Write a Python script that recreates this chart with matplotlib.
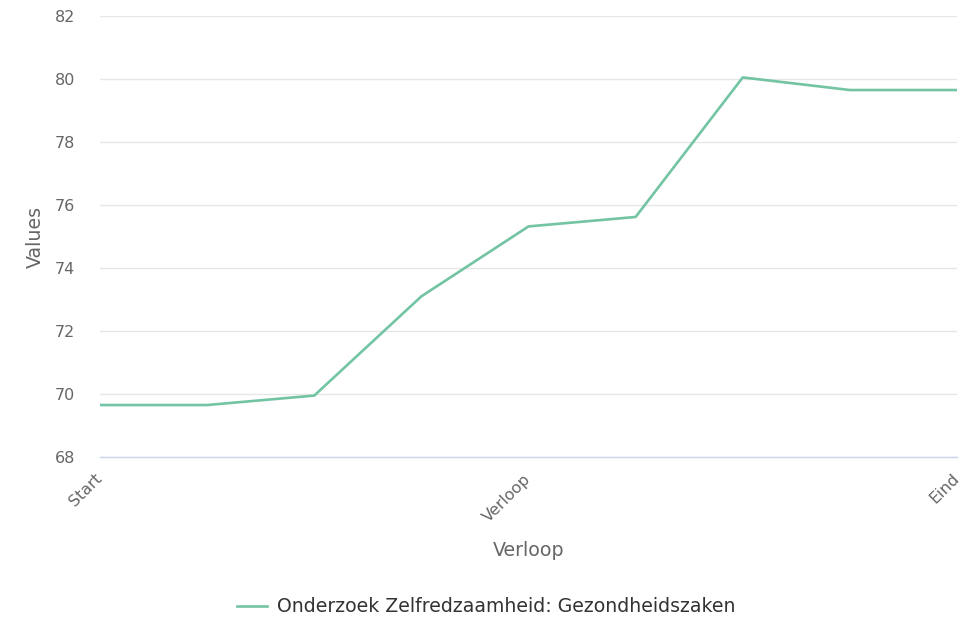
import matplotlib
matplotlib.use("Agg")
import matplotlib.pyplot as plt

categories = ["Start", "", "", "", "Verloop", "", "", "", "Eind"]
values = [69.65, 69.65, 69.95, 73.1, 75.32, 75.62, 80.05, 79.65, 79.65]
series_name = "Onderzoek Zelfredzaamheid: Gezondheidszaken"
y_ticks = [68, 70, 72, 74, 76, 78, 80, 82]

plt.rcParams['font.family'] = ['DejaVu Sans']

fig = plt.figure(figsize=(9.72, 6.17), dpi=100)
ax = fig.add_axes([100/972, (617-457)/617, (957-100)/972, (457-16)/617])

x = list(range(len(values)))
ax.plot(x, values, color="#72c4a2", linewidth=1.9, label=series_name, solid_joinstyle="round")

ax.set_xlim(0, len(values) - 1)
ax.set_ylim(68, 82)
ax.set_yticks(y_ticks)
ax.set_yticklabels([str(t) for t in y_ticks], fontsize=11.5, color="#666666")
ax.yaxis.grid(True, color="#e6e6e6", linewidth=1)
ax.set_axisbelow(True)

tick_pos = [i for i, c in enumerate(categories) if c]
ax.set_xticks(tick_pos)
ax.set_xticklabels([categories[i] for i in tick_pos], rotation=45, ha="right", va="center",
                   rotation_mode="anchor", fontsize=11.5, color="#666666")
ax.tick_params(axis="both", length=0)
ax.tick_params(axis="y", pad=18)
ax.tick_params(axis="x", pad=14)

for s in ["top", "right", "left"]:
    ax.spines[s].set_visible(False)
ax.spines["bottom"].set_color("#ccd6eb")
ax.spines["bottom"].set_linewidth(1)

ax.set_ylabel("Values", fontsize=13.7, color="#666666", labelpad=7)
ax.set_xlabel("Verloop", fontsize=13.7, color="#666666")
ax.xaxis.set_label_coords(0.5, -0.19)

leg = fig.legend(loc="center", bbox_to_anchor=(0.5, 1 - 607/617), frameon=False,
                 fontsize=13.6, handlelength=1.6, handletextpad=0.5)
for t in leg.get_texts():
    t.set_color("#333333")

fig.savefig("out.png", dpi=100)
